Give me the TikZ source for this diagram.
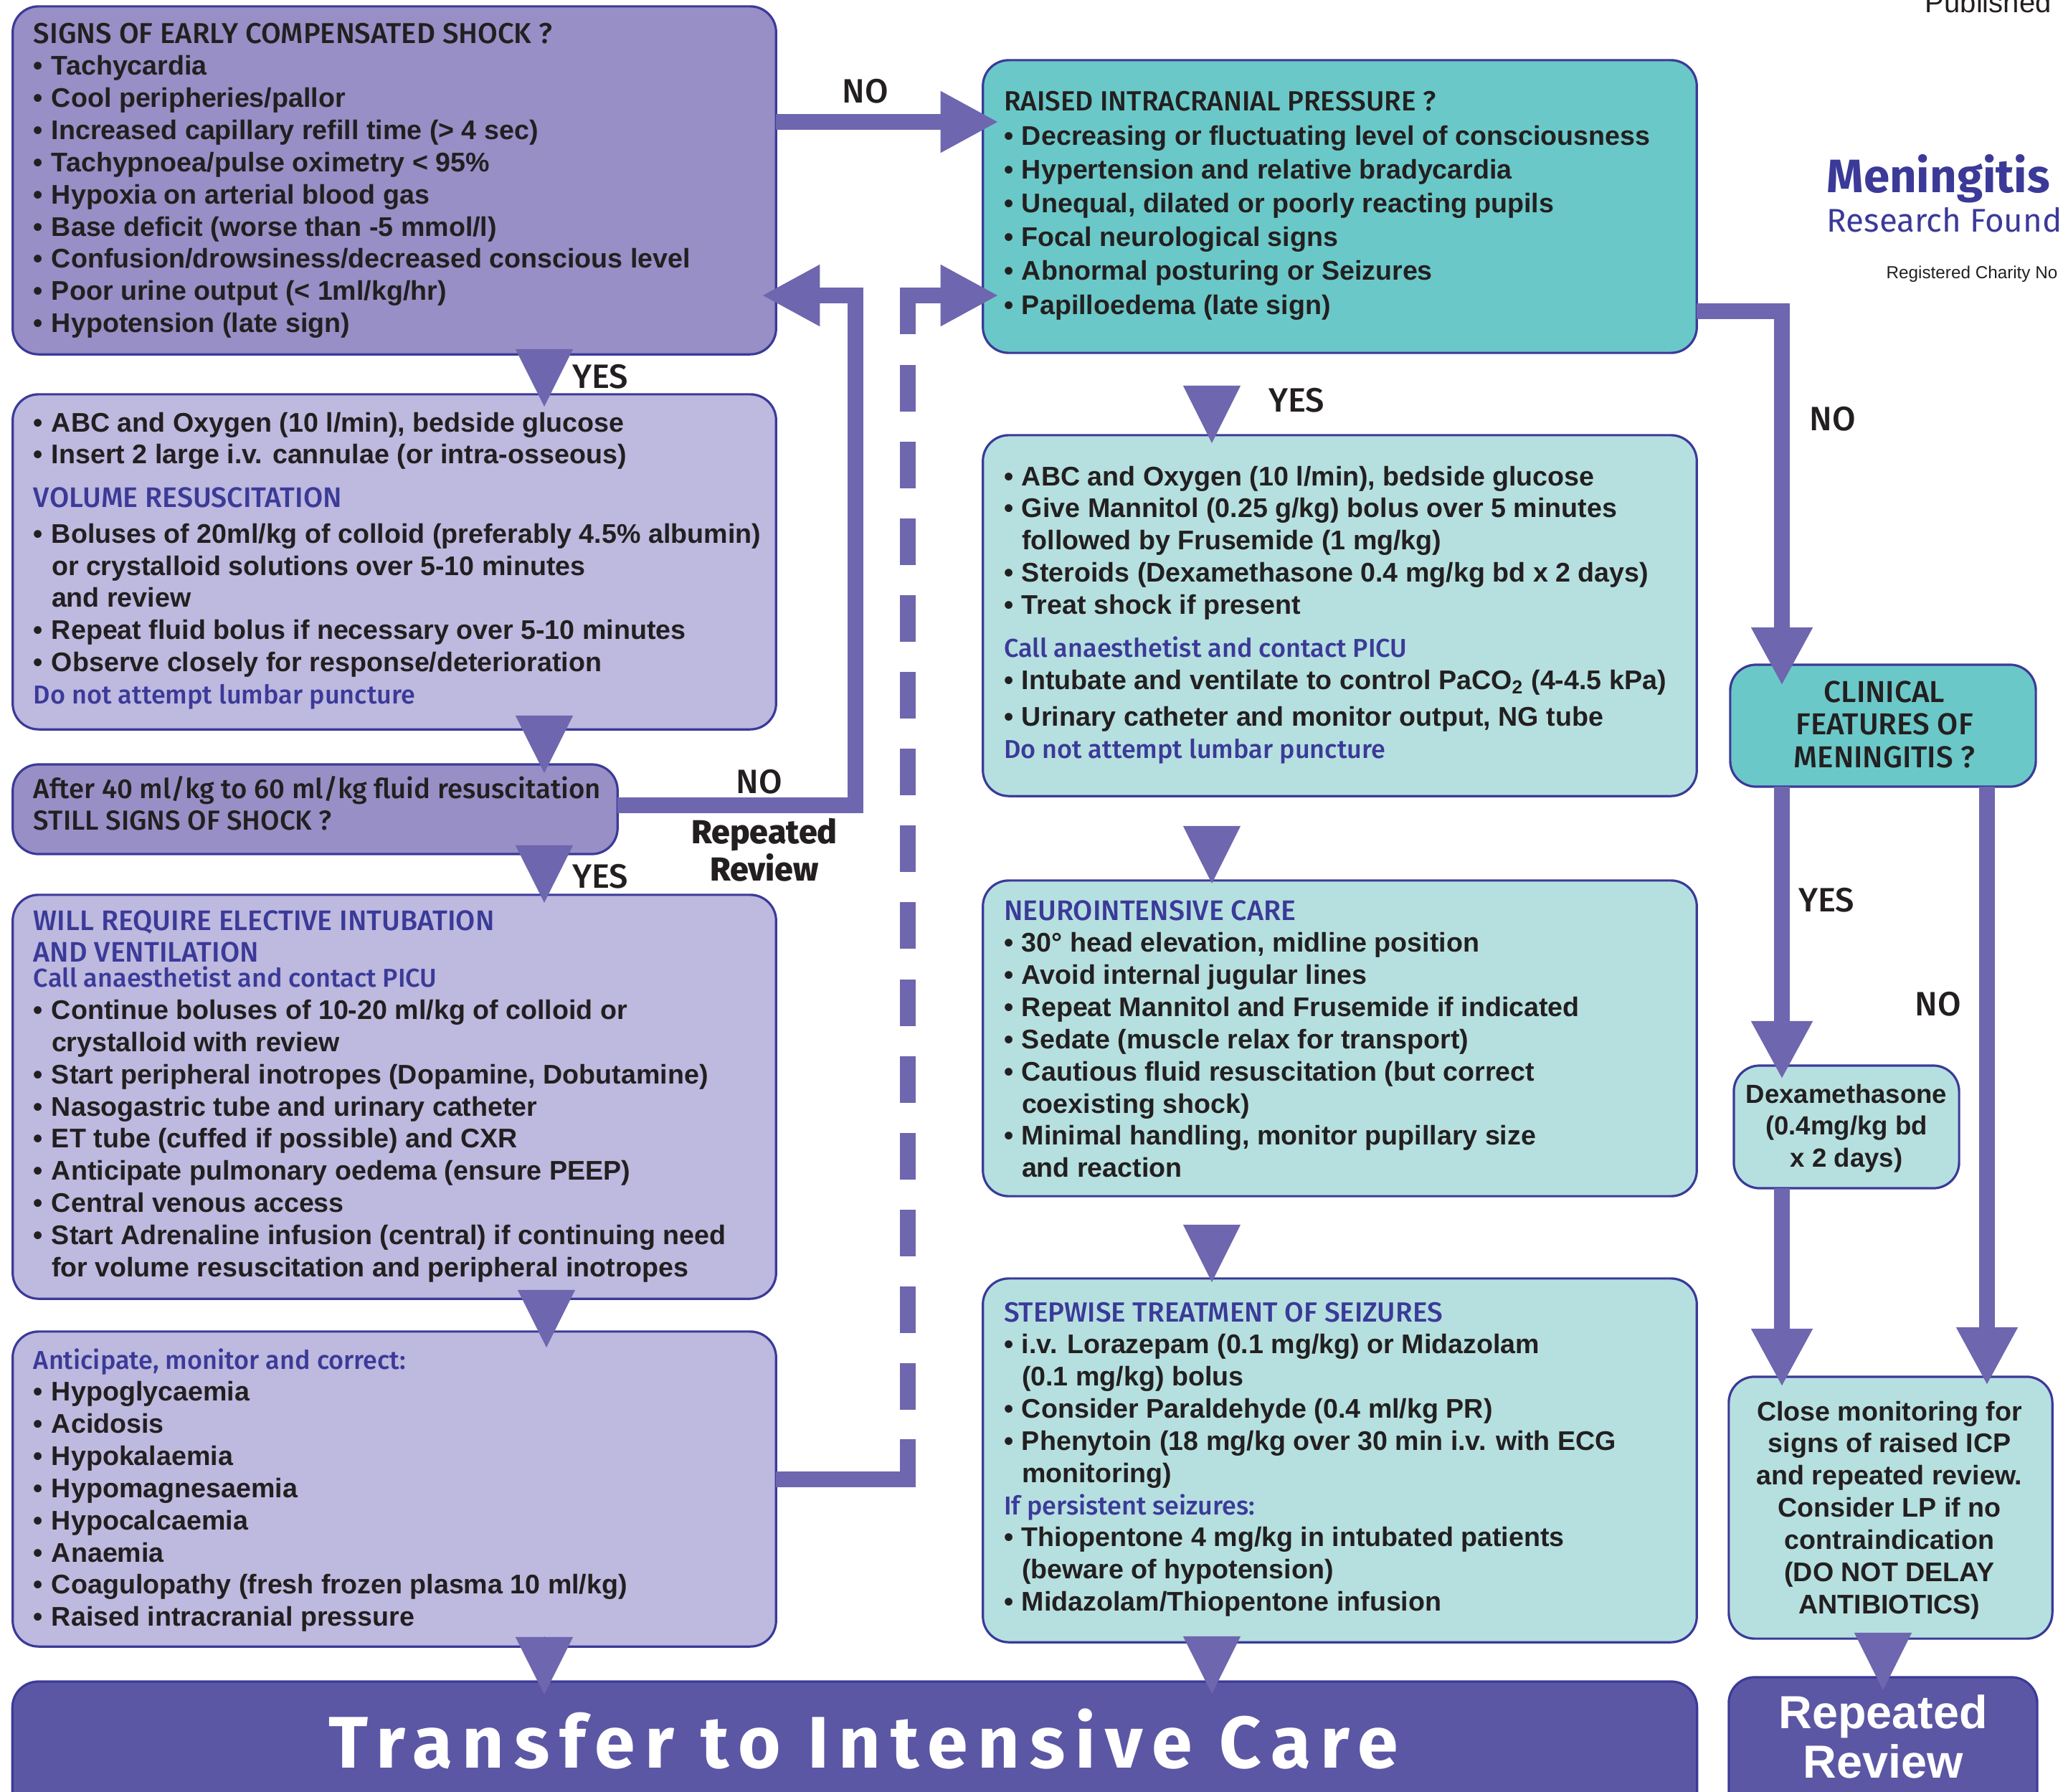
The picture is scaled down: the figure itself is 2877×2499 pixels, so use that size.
\documentclass[tikz,border=0pt]{standalone}
\usepackage{fontspec}
\usepackage{array}
\usetikzlibrary{arrows.meta,calc}
\setmainfont{Liberation Sans}
\newfontfamily\hd{Fira Sans Medium}
\newfontfamily\hdb{Fira Sans}
\newfontfamily\ttl{Fira Sans}[LetterSpace=13.4]
\definecolor{ink}{HTML}{231F20}
\definecolor{edgeblue}{HTML}{3B3A98}
\definecolor{arrowc}{HTML}{6E66AE}
\definecolor{pmid}{HTML}{978FC5}
\definecolor{plight}{HTML}{BDB9DF}
\definecolor{tmid}{HTML}{6BC8C8}
\definecolor{tlight}{HTML}{B6E0E0}
\definecolor{pdark}{HTML}{5B57A4}
\newcommand\bl{\makebox[0.25cm][l]{•}}
\newcommand\ct{\hspace*{0.25cm}}
\newcommand\bh[1]{{\hd\mdseries\fontsize{11.2}{12.75}\selectfont\color{edgeblue}#1}}
\newcommand\bm[1]{{\hd\mdseries\fontsize{10.25}{12.75}\selectfont\color{edgeblue}#1}}
\newcommand\kh[2][11.4]{{\hd\mdseries\fontsize{#1}{12.75}\selectfont #2}}
\newcommand\lns[1]{\begin{tabular}[t]{@{}l@{}}#1\end{tabular}}
\newcommand\cns[1]{\begin{tabular}[t]{@{}c@{}}#1\end{tabular}}
\newcommand\mkbox[6]{%
  \pgfmathsetmacro\cxx{(#3+#5)/2}\pgfmathsetmacro\cyy{(#4+#6)/2}%
  \pgfmathsetmacro\wxx{(#5-#3)/100}\pgfmathsetmacro\hyy{(#6-#4)/100}%
  \node[#2,minimum width=\wxx cm,minimum height=\hyy cm] (#1) at (\cxx,\cyy) {};}
\tikzset{
  x=0.01cm,y=-0.01cm,
  boxbase/.style={draw=edgeblue,line width=0.032cm,rounded corners=0.36cm,inner sep=0pt,outer sep=0pt},
  pm/.style={boxbase,fill=pmid},
  pl/.style={boxbase,fill=plight},
  tm/.style={boxbase,fill=tmid},
  tl/.style={boxbase,fill=tlight},
  pd/.style={boxbase,fill=pdark},
  txt/.style={anchor=base west,inner sep=0pt,outer sep=0pt,text=ink,font=\fontsize{10.7}{12.75}\selectfont\bfseries},
  ctxt/.style={txt,anchor=base},
  lab/.style={inner sep=0pt,outer sep=0pt,text=ink,font=\hd\fontsize{13.4}{16}\selectfont},
  pipe/.style={draw=arrowc,line width=0.215cm,line join=miter,-{Triangle[length=0.81cm,width=0.8cm]}},
  pipen/.style={draw=arrowc,line width=0.215cm,line join=miter},
  wedgec/.style={draw=arrowc,line width=0.1pt,-{Triangle[length=0.8cm,width=0.8cm]}},
}
\begin{document}
\begin{tikzpicture}
\useasboundingbox (0,0) rectangle (2877,2499);
\clip (0,0) rectangle (2877,2499);
% boxes
\mkbox{b1}{pm}{18}{9}{1082}{494}
\mkbox{b2}{pl}{18}{550}{1082}{1017}
\mkbox{b3}{pm}{18}{1066}{861}{1191}
\mkbox{b4}{pl}{18}{1248}{1082}{1811}
\mkbox{b5}{pl}{18}{1857}{1082}{2296}
\mkbox{tr}{pd}{18}{2345}{2366}{2560}
\mkbox{t1}{tm}{1371}{84}{2366}{492}
\mkbox{t2}{tl}{1371}{607}{2366}{1110}
\mkbox{t3}{tl}{1371}{1228}{2366}{1668}
\mkbox{t4}{tl}{1371}{1783}{2366}{2290}
\mkbox{cl}{tm}{2413}{927}{2839}{1097}
\mkbox{dx}{tl}{2418}{1486}{2732}{1657}
\mkbox{cm}{tl}{2411}{1920}{2862}{2285}
\mkbox{rr}{pd}{2411}{2339}{2841}{2560}
% texts
\node[txt] (tb1) at (47,60) {\lns{\kh{SIGNS OF EARLY COMPENSATED SHOCK ?}\\
\bl Tachycardia\\ \bl Cool peripheries/pallor\\ \bl Increased capillary refill time (> 4 sec)\\
\bl Tachypnoea/pulse oximetry < 95\%\\ \bl Hypoxia on arterial blood gas\\
\bl Base deficit (worse than -5 mmol/l)\\ \bl Confusion/drowsiness/decreased conscious level\\
\bl Poor urine output (< 1ml/kg/hr)\\ \bl Hypotension (late sign)}};
\node[txt] (tb2) at (47,602) {\lns{\bl ABC and Oxygen (10 l/min), bedside glucose\\
\bl Insert 2 large i.v. cannulae (or intra-osseous)\\[0.157cm]
\bh{VOLUME RESUSCITATION}\\[0.05cm]
\bl Boluses of 20ml/kg of colloid (preferably 4.5\% albumin)\\
\ct or crystalloid solutions over 5-10 minutes\\ \ct and review\\
\bl Repeat fluid bolus if necessary over 5-10 minutes\\
\bl Observe closely for response/deterioration\\ \bm{Do not attempt lumbar puncture}}};
\node[txt] (tb3) at (47,1113) {\lns{\kh[10.9]{After 40 ml/kg to 60 ml/kg fluid resuscitation}\\ \kh[10.9]{STILL SIGNS OF SHOCK ?}}};
\node[txt] (tb4) at (47,1297) {\lns{\bh{WILL REQUIRE ELECTIVE INTUBATION}\\ \bh{AND VENTILATION}\\[-0.1cm]
\bm{Call anaesthetist and contact PICU}\\
\bl Continue boluses of 10-20 ml/kg of colloid or\\ \ct crystalloid with review\\
\bl Start peripheral inotropes (Dopamine, Dobutamine)\\ \bl Nasogastric tube and urinary catheter\\
\bl ET tube (cuffed if possible) and CXR\\ \bl Anticipate pulmonary oedema (ensure PEEP)\\
\bl Central venous access\\ \bl Start Adrenaline infusion (central) if continuing need\\
\ct for volume resuscitation and peripheral inotropes}};
\node[txt] (tb5) at (47,1909) {\lns{\bm{Anticipate, monitor and correct:}\\
\bl Hypoglycaemia\\ \bl Acidosis\\ \bl Hypokalaemia\\ \bl Hypomagnesaemia\\ \bl Hypocalcaemia\\
\bl Anaemia\\ \bl Coagulopathy (fresh frozen plasma 10 ml/kg)\\ \bl Raised intracranial pressure}};
\node[txt] (tt1) at (1400,154) {\lns{\kh[11]{RAISED INTRACRANIAL PRESSURE ?}\\[0.04cm]
\bl Decreasing or fluctuating level of consciousness\\[0.022cm]
\bl Hypertension and relative bradycardia\\[0.022cm]
\bl Unequal, dilated or poorly reacting pupils\\[0.022cm]
\bl Focal neurological signs\\[0.022cm]
\bl Abnormal posturing or Seizures\\[0.022cm]
\bl Papilloedema (late sign)}};
\node[txt] (tt2) at (1400,677) {\lns{\bl ABC and Oxygen (10 l/min), bedside glucose\\
\bl Give Mannitol (0.25 g/kg) bolus over 5 minutes\\ \ct followed by Frusemide (1 mg/kg)\\
\bl Steroids (Dexamethasone 0.4 mg/kg bd x 2 days)\\ \bl Treat shock if present\\[0.157cm]
\bm{Call anaesthetist and contact PICU}\\
\bl Intubate and ventilate to control PaCO\textsubscript{\smash{2}} (4-4.5 kPa)\\[0.06cm]
\bl Urinary catheter and monitor output, NG tube\\ \bm{Do not attempt lumbar puncture}}};
\node[txt] (tt3) at (1400,1283) {\lns{\bh{NEUROINTENSIVE CARE}\\
\bl 30° head elevation, midline position\\ \bl Avoid internal jugular lines\\
\bl Repeat Mannitol and Frusemide if indicated\\ \bl Sedate (muscle relax for transport)\\
\bl Cautious fluid resuscitation (but correct\\ \ct coexisting shock)\\
\bl Minimal handling, monitor pupillary size\\ \ct and reaction}};
\node[txt] (tt4) at (1400,1843) {\lns{{\hd\mdseries\fontsize{11}{12.75}\selectfont\color{edgeblue}STEPWISE TREATMENT OF SEIZURES}\\
\bl i.v. Lorazepam (0.1 mg/kg) or Midazolam\\ \ct (0.1 mg/kg) bolus\\
\bl Consider Paraldehyde (0.4 ml/kg PR)\\ \bl Phenytoin (18 mg/kg over 30 min i.v. with ECG\\
\ct monitoring)\\ \bm{If persistent seizures:}\\ \bl Thiopentone 4 mg/kg in intubated patients\\
\ct (beware of hypotension)\\ \bl Midazolam/Thiopentone infusion}};
\node[ctxt] (tcl) at (2628,979) {\cns{\kh{\fontsize{12}{13.2}\selectfont CLINICAL}\\[0.01cm] \kh{\fontsize{12}{13.2}\selectfont FEATURES OF}\\[0.01cm] \kh{\fontsize{12}{13.2}\selectfont MENINGITIS ?}}};
\node[ctxt,font=\fontsize{10.4}{12.75}\selectfont\bfseries] (tdx) at (2575,1538) {\cns{Dexamethasone\\ (0.4mg/kg bd\\ x 2 days)}};
\node[ctxt] (tcm) at (2635,1981) {\cns{Close monitoring for\\ signs of raised ICP\\ and repeated review.\\ Consider LP if no\\ contraindication\\ (DO NOT DELAY\\ ANTIBIOTICS)}};
\node[ctxt,text=white,font=\fontsize{18.4}{19.84}\selectfont\bfseries] (trr) at (2626,2410) {\cns{Repeated\\ Review}};
\node[anchor=base,inner sep=0pt,text=white,font=\ttl\bfseries\fontsize{29}{32}\selectfont] (ttr) at (1204,2465) {Transfer to Intensive Care};
% labels
\node[lab] (n1) at (1207,127) {NO};
\node[lab] (y1) at (837,525) {YES};
\node[lab] (n2) at (1059,1090) {NO};
\node[ctxt,font=\hd\bfseries\fontsize{13.2}{13.6}\selectfont] (rv) at (1066,1176) {\cns{Repeated\\ Review}};
\node[lab] (y2) at (837,1222) {YES};
\node[lab] (y3) at (1808,558) {YES};
\node[lab] (n3) at (2556,584) {NO};
\node[lab] (y4) at (2547,1255) {YES};
\node[lab] (n4) at (2703,1400) {NO};
% logo and header
\node[anchor=base west,inner sep=0pt,text=edgeblue,font=\hdb\bfseries\fontsize{18.6}{20}\selectfont] (lg1) at (2547,268) {Meningitis};
\node[anchor=base west,inner sep=0pt,text=edgeblue,font=\hdb\fontsize{13}{16}\selectfont] (lg2) at (2547,323) {Research Found};
\node[anchor=base west,inner sep=0pt,text=ink,font=\fontsize{6.9}{8}\selectfont] (lg3) at (2630,388) {Registered Charity No};
\node[anchor=base west,inner sep=0pt,text=ink,font=\fontsize{11.4}{13}\selectfont] (pub) at (2684,17) {Published};
% connector guides
\coordinate (wl) at (759,0);
\coordinate (wm) at (1690,0);
\coordinate (wr) at (2626,0);
\coordinate (c1) at (0,170);
\coordinate (c2) at (1193,1123);
\coordinate (c3) at (1193,412);
\coordinate (c4) at (1266,2063);
\coordinate (c5) at (1266,412);
\coordinate (c6) at (2485,434);
\coordinate (cr) at (2771,0);
% connectors
\draw[pipe] (b1.east |- c1) -- ($(t1.west |- c1)+(22,0)$);
\draw[pipe] (b3.east |- c2) -- (c2) -- (c3) -- ($(b1.east |- c3)+(-20,0)$);
\draw[pipen] (b5.east |- c4) -- (c4) -- ++(0,-56);
\draw[pipen,dash pattern=on 0.65cm off 0.42cm] (1266,509) -- (1266,2007);
\draw[pipe] (1266,466) -- (c5) -- ($(t1.west |- c5)+(22,0)$);
\draw[pipe] (t1.east |- c6) -- (c6) -- ($(cl.north -| c6)+(0,29)$);
\draw[pipe] (cl.south -| c6) -- ($(dx.north -| c6)+(0,19)$);
\draw[pipe] (dx.south -| c6) -- ($(cm.north -| c6)+(0,14)$);
\draw[pipe] (cl.south -| cr) -- ($(cm.north -| cr)+(0,12)$);
\draw[wedgec] ($(b1.south -| wl)+(0,-7)$) -- ($(b2.north -| wl)+(0,17)$);
\draw[wedgec] ($(b2.south -| wl)+(0,-16)$) -- ($(b3.north -| wl)+(0,12)$);
\draw[wedgec] ($(b3.south -| wl)+(0,-11)$) -- ($(b4.north -| wl)+(0,11)$);
\draw[wedgec] ($(b4.south -| wl)+(3,-11)$) -- ($(b5.north -| wl)+(3,22)$);
\draw[wedgec] ($(b5.south -| wl)+(0,-14)$) -- ($(tr.north -| wl)+(0,18)$);
\draw[wedgec] ($(t1.south -| wm)+(0,48)$) -- ($(t2.north -| wm)+(0,11)$);
\draw[wedgec] ($(t2.south -| wm)+(0,45)$) -- ($(t3.north -| wm)+(0,4)$);
\draw[wedgec] ($(t3.south -| wm)+(0,43)$) -- ($(t4.north -| wm)+(0,5)$);
\draw[wedgec] ($(t4.south -| wm)+(0,-5)$) -- ($(tr.north -| wm)+(0,17)$);
\draw[wedgec] ($(cm.south -| wr)+(0,-8)$) -- ($(rr.north -| wr)+(0,18)$);
\end{tikzpicture}
\end{document}
